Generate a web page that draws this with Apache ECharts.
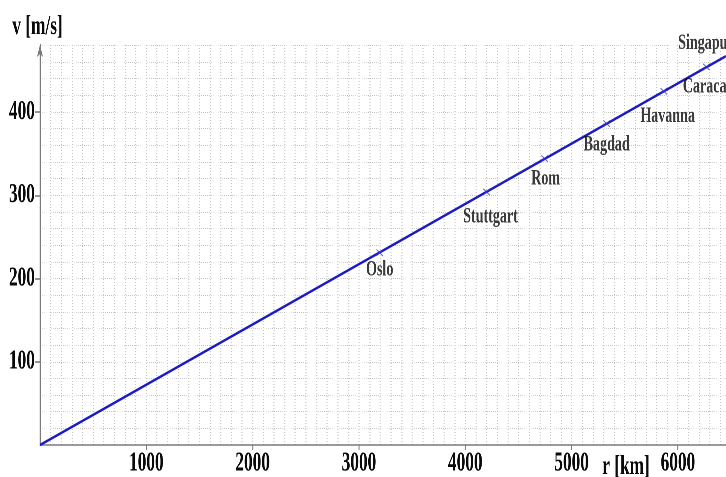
<!DOCTYPE html>
<html>
<head>
<meta charset="utf-8">
<script src="https://cdn.jsdelivr.net/npm/echarts@6/dist/echarts.min.js"></script>
<style>
  html, body { margin: 0; padding: 0; background: #fff; overflow: hidden; }
  #wrap { width: 726px; height: 477px; overflow: hidden; position: relative; }
  #chart { position: absolute; left: 0; top: 0; height: 477px; transform-origin: 0 0; }
</style>
</head>
<body>
<div id="wrap"><div id="chart"></div></div>
<script>
// Rotation speed of the earth's surface against distance from the axis
const cities = ['Oslo', 'Stuttgart', 'Rom', 'Bagdad', 'Havanna', 'Caracas', 'Singapur'];
const radiusKm = [3195, 4200, 4746, 5330, 5866, 6268, 6376];
const speedMs = [231, 304, 344, 386, 425, 454, 462];

const lineR = [0, 6450];
const lineV = [0, 467];

const xTickValues = [1000, 2000, 3000, 4000, 5000, 6000];
const yTickValues = [100, 200, 300, 400];

// The lettering is tall and narrow, so the canvas is drawn wider and squeezed horizontally
const SX = 0.64;
const W = Math.round(726 / SX);
const dom = document.getElementById('chart');
dom.style.width = W + 'px';
dom.style.transform = 'scaleX(' + SX + ')';

const FONT = '"Liberation Serif", "Times New Roman", serif';
const AXIS_GREY = '#7a7a7a';
const GRID_GREY = '#c2c2c2';
const INK = '#0a0a0a';

// label shift for each city, in screen pixels [dx, dy]
const labelShift = [[0, 17], [4, 25], [1, 20], [0, 21], [4, 25], [1, 20], [-12, -17]];

// a small filled "x" cross
const CROSS = 'path://M0,1L1,0L5,4L9,0L10,1L6,5L10,9L9,10L5,6L1,10L0,9L4,5Z';

const plain = v => String(v);

const chart = echarts.init(dom, null, { renderer: 'canvas', devicePixelRatio: 2 });

chart.setOption({
  animation: false,
  backgroundColor: '#fff',
  grid: { left: 40 / SX, right: 0, top: 45, bottom: 30, containLabel: false },
  xAxis: {
    type: 'value',
    min: 0,
    max: 6450,
    interval: 1000,
    axisLine: { show: true, lineStyle: { color: AXIS_GREY, width: 1.5 } },
    axisTick: { show: true, customValues: xTickValues, length: 5, lineStyle: { color: AXIS_GREY, width: 1.5 } },
    axisLabel: {
      customValues: xTickValues, formatter: plain,
      fontFamily: FONT, fontWeight: 'bold', fontSize: 27, color: INK, margin: 5
    },
    splitLine: { show: true, lineStyle: { color: GRID_GREY, width: 1.6, type: [1, 2] } },
    minorTick: { show: false, splitNumber: 10 },
    minorSplitLine: { show: true, lineStyle: { color: GRID_GREY, width: 1.6, type: [1, 2] } }
  },
  yAxis: {
    type: 'value',
    min: 0,
    max: 480.5,
    interval: 100,
    axisLine: {
      show: true,
      lineStyle: { color: AXIS_GREY, width: 2.2 },
      symbol: ['none', 'arrow'],
      symbolSize: [7, 12]
    },
    axisTick: { show: true, customValues: yTickValues, length: 8, lineStyle: { color: AXIS_GREY, width: 1.6 } },
    axisLabel: {
      customValues: yTickValues, formatter: plain,
      fontFamily: FONT, fontWeight: 'bold', fontSize: 27, color: INK, margin: 8
    },
    splitLine: { show: true, lineStyle: { color: GRID_GREY, width: 1, type: [1, 2] } },
    minorTick: { show: false, splitNumber: 5 },
    minorSplitLine: { show: true, lineStyle: { color: GRID_GREY, width: 1, type: [1, 2] } }
  },
  graphic: [
    {
      type: 'text', x: 37.5 / SX, y: 27, z: 10,
      style: { text: 'v [m/s]', fontFamily: FONT, fontWeight: 'bold', fontSize: 27, fill: INK, align: 'center', verticalAlign: 'middle' }
    },
    {
      type: 'text', x: 626 / SX, y: 467, z: 10,
      style: { text: 'r [km]', fontFamily: FONT, fontWeight: 'bold', fontSize: 27, fill: INK, align: 'center', verticalAlign: 'middle' }
    }
  ],
  series: [
    {
      type: 'line',
      data: lineR.map((r, i) => [r, lineV[i]]),
      showSymbol: false,
      symbol: 'none',
      lineStyle: { color: '#1c1cc4', width: 2.6 },
      z: 2
    },
    {
      type: 'scatter',
      symbol: CROSS,
      symbolSize: [11, 7],
      itemStyle: { color: '#3a3ad8' },
      label: {
        show: true,
        position: 'inside',
        formatter: '{b}',
        fontFamily: FONT, fontWeight: 'bold', fontSize: 22, color: INK
      },
      data: cities.map((name, i) => ({
        name: name,
        value: [radiusKm[i], speedMs[i]],
        symbolSize: name === 'Singapur' ? 0 : [11, 7],
        label: { offset: [labelShift[i][0] / SX, labelShift[i][1]] }
      })),
      z: 3
    }
  ]
});
</script>
</body>
</html>
